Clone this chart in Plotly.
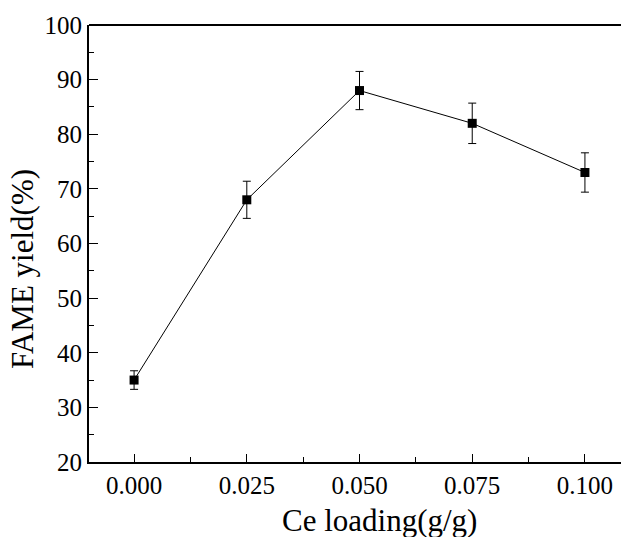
import plotly.graph_objects as go

ce_loading = [0.000, 0.025, 0.050, 0.075, 0.100]
fame_yield = [35, 68, 88, 82, 73]
yield_err = [1.7, 3.4, 3.5, 3.7, 3.6]
x_tickvals = [0.000, 0.025, 0.050, 0.075, 0.100]
x_ticktext = ["0.000", "0.025", "0.050", "0.075", "0.100"]
y_tickvals = [20, 30, 40, 50, 60, 70, 80, 90, 100]

FONT = "Liberation Serif"

fig = go.Figure()
fig.add_trace(go.Scatter(
    x=ce_loading, y=fame_yield, mode="lines+markers",
    line=dict(color="black", width=1),
    marker=dict(symbol="square", size=9, color="black"),
    error_y=dict(type="data", array=yield_err, visible=True,
                 color="black", thickness=1, width=4),
    showlegend=False,
))

fig.update_layout(
    width=621, height=537,
    margin=dict(l=89, r=0, t=25, b=75),
    paper_bgcolor="white", plot_bgcolor="white",
    font=dict(family=FONT, size=25, color="black"),
    xaxis=dict(
        range=[-0.01, 0.108], tickvals=x_tickvals, ticktext=x_ticktext,
        ticks="inside", ticklen=8, tickwidth=1.2, tickcolor="black",
        minor=dict(dtick=0.0125, tick0=0, ticks="inside", ticklen=5, tickcolor="black", tickwidth=1.2),
        showline=True, linecolor="black", linewidth=2,
        showgrid=False, zeroline=False,
        tickfont=dict(size=25, family=FONT),
    ),
    yaxis=dict(
        range=[20, 100], tickvals=y_tickvals,
        ticks="inside", ticklen=9, tickwidth=1.2, tickcolor="black",
        minor=dict(dtick=5, tick0=0, ticks="inside", ticklen=5, tickcolor="black", tickwidth=1.2),
        showline=True, linecolor="black", linewidth=2,
        showgrid=False, zeroline=False,
        tickfont=dict(size=25, family=FONT),
    ),
    shapes=[dict(type="line", xref="paper", yref="paper", x0=0, x1=1, y0=1, y1=1,
                 line=dict(color="black", width=2))],
    annotations=[
        dict(text="Ce loading(g/g)", xref="paper", yref="paper",
             x=(379 - 89) / 532, y=(462 - 520) / 437, xanchor="center", yanchor="middle",
             showarrow=False, font=dict(size=31, family=FONT)),
        dict(text="FAME yield(%)", xref="paper", yref="paper", textangle=-90,
             x=(22 - 89) / 532, y=(462 - 269) / 437, xanchor="center", yanchor="middle",
             showarrow=False, font=dict(size=31, family=FONT)),
    ],
)

fig.write_html("out.html")
